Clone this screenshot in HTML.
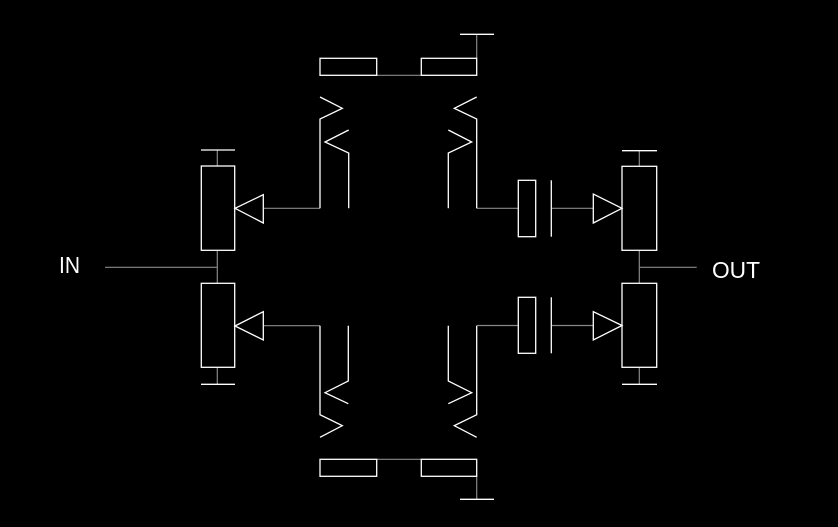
<!DOCTYPE html>
<html><head><style>html,body{margin:0;padding:0;background:#000;}svg{display:block}</style></head>
<body>
<svg width="838" height="527" viewBox="0 0 838 527" xmlns="http://www.w3.org/2000/svg">
<rect width="838" height="527" fill="#000"/>
<g fill="none" stroke="#888" stroke-width="1.2">
<line x1="377" y1="75.3" x2="421" y2="75.3"/>
<line x1="476.7" y1="34" x2="476.7" y2="58"/>
<line x1="377" y1="459.3" x2="421" y2="459.3"/>
<line x1="476.7" y1="476" x2="476.7" y2="499.3"/>
<line x1="217.3" y1="150" x2="217.3" y2="166"/>
<line x1="217.3" y1="250" x2="217.3" y2="283.3"/>
<line x1="105" y1="267.3" x2="217.3" y2="267.3"/>
<line x1="217.3" y1="367.3" x2="217.3" y2="384.3"/>
<line x1="263.3" y1="208.3" x2="320" y2="208.3"/>
<line x1="263.3" y1="325.7" x2="320" y2="325.7"/>
<line x1="476.7" y1="208.3" x2="518.3" y2="208.3"/>
<line x1="551.3" y1="208.3" x2="593.3" y2="208.3"/>
<line x1="476.7" y1="325.5" x2="518.3" y2="325.5"/>
<line x1="551.3" y1="325.5" x2="593.3" y2="325.5"/>
<line x1="639.3" y1="150.7" x2="639.3" y2="166.3"/>
<line x1="639.3" y1="250.3" x2="639.3" y2="283.3"/>
<line x1="639.3" y1="267.3" x2="696.7" y2="267.3"/>
<line x1="639.3" y1="367.3" x2="639.3" y2="384.3"/>
</g>
<g fill="none" stroke="#fff" stroke-width="1.3">
<rect x="320" y="58.3" width="56.7" height="17"/>
<rect x="421.3" y="58.3" width="55.4" height="17"/>
<line x1="460" y1="34.3" x2="494" y2="34.3"/>
<rect x="320" y="459.3" width="56.7" height="17"/>
<rect x="421.3" y="459.3" width="55.4" height="17"/>
<line x1="460" y1="499.3" x2="494" y2="499.3"/>
<polyline points="320,97 342.3,108.3 320,119 320,208.3"/>
<polyline points="348.7,130 325,142 348.7,153 348.7,208.3"/>
<polyline points="476.7,97 454.3,108.3 476.7,119 476.7,208.3"/>
<polyline points="448.3,130 471.7,142 448.3,153 448.3,208.3"/>
<polyline points="320,325.7 320,414.7 342.3,425.7 320,437.3"/>
<polyline points="348.3,325.7 348.3,381 325,392.7 348.3,403.7"/>
<polyline points="448.3,325.7 448.3,381 471.7,392.7 448.3,403.7"/>
<polyline points="476.7,325.7 476.7,414.7 454.3,425.7 476.7,437.3"/>
<rect x="201.3" y="166" width="33.4" height="84.3"/>
<line x1="201" y1="150" x2="235" y2="150"/>
<polygon points="235,208.3 263.3,194.7 263.3,223"/>
<rect x="201.3" y="283.3" width="33.4" height="84"/>
<line x1="201" y1="384.3" x2="235" y2="384.3"/>
<polygon points="235,326 263.3,311.7 263.3,340"/>
<rect x="518.3" y="180.3" width="17.4" height="56.4"/>
<line x1="551.3" y1="180.3" x2="551.3" y2="236.7"/>
<rect x="518.3" y="297.3" width="17.4" height="56"/>
<line x1="551.3" y1="297.3" x2="551.3" y2="353.3"/>
<polygon points="622,208.3 593.3,194 593.3,223"/>
<polygon points="622,325.5 593.3,311.7 593.3,340"/>
<rect x="622" y="166.3" width="34.7" height="84"/>
<line x1="622" y1="150.7" x2="657" y2="150.7"/>
<rect x="622" y="283.3" width="34.7" height="84"/>
<line x1="622" y1="384.3" x2="657" y2="384.3"/>
</g>
<g fill="#fff" font-family="Liberation Sans, sans-serif" font-size="23">
<text x="59" y="273" textLength="21" lengthAdjust="spacingAndGlyphs">IN</text>
<text x="712" y="278" textLength="48" lengthAdjust="spacingAndGlyphs">OUT</text>
</g>
</svg>
</body></html>
